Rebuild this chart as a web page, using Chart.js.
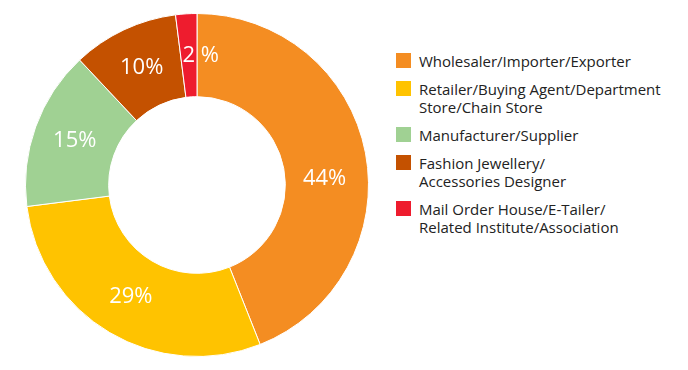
<!DOCTYPE html>
<html>
<head>
<meta charset="utf-8">
<script src="https://cdn.jsdelivr.net/npm/chart.js@4.4.0/dist/chart.umd.min.js"></script>
<style>
  body { margin: 0; background: #fff; width: 688px; height: 370px; overflow: hidden; font-family: "Open Sans", sans-serif; }
  #wrap { position: absolute; left: 0; top: 0; width: 394px; height: 370px; }
  #legend { position: absolute; left: 396px; top: 52px; margin: 0; padding: 0; list-style: none; }
  #legend li { position: relative; padding-left: 23px; margin-bottom: 10px; font-size: 15px; line-height: 18px; color: #222; white-space: nowrap; }
  #legend li span { position: absolute; left: 0; top: 1px; width: 15px; height: 15px; }
</style>
</head>
<body>
<div id="wrap"><canvas id="grafico"></canvas></div>
<ul id="legend"></ul>
<script>
const categories = [
  ['Wholesaler/Importer/Exporter'],
  ['Retailer/Buying Agent/Department', 'Store/Chain Store'],
  ['Manufacturer/Supplier'],
  ['Fashion Jewellery/', 'Accessories Designer'],
  ['Mail Order House/E-Tailer/', 'Related Institute/Association']
];
const shares = [44, 29, 15, 10, 2];
const pctLabels = ['44%', '29%', '15%', '10%', '2 %'];
const colors = ['#F48D22', '#FFC300', '#A0D193', '#C45100', '#EE1C2E'];

// legend
const legend = document.getElementById('legend');
categories.forEach((lines, i) => {
  const li = document.createElement('li');
  const box = document.createElement('span');
  box.style.background = colors[i];
  li.appendChild(box);
  li.appendChild(document.createTextNode(lines[0]));
  for (let k = 1; k < lines.length; k++) {
    li.appendChild(document.createElement('br'));
    li.appendChild(document.createTextNode(lines[k]));
  }
  legend.appendChild(li);
});

// white % labels on the ring
const sliceLabels = {
  id: 'sliceLabels',
  afterDatasetsDraw(chart, args, opts) {
    const ctx = chart.ctx;
    const meta = chart.getDatasetMeta(0);
    ctx.save();
    ctx.fillStyle = '#fff';
    ctx.font = '22px "Open Sans"';
    ctx.textBaseline = 'middle';
    meta.data.forEach((arc, i) => {
      const p = arc.tooltipPosition();
      const dy = (opts.shiftY && opts.shiftY[i]) || 0;
      const txt = pctLabels[i];
      if (txt.indexOf(' ') > 0) {
        // narrow slice: number on the slice, sign spills out to the right
        const num = txt.split(' ')[0];
        ctx.textAlign = 'left';
        ctx.fillText(txt, p.x - ctx.measureText(num).width / 2, p.y + dy);
      } else {
        ctx.textAlign = 'center';
        ctx.fillText(txt, p.x, p.y + dy);
      }
    });
    ctx.restore();
  }
};

new Chart(document.getElementById('grafico'), {
  type: 'doughnut',
  data: {
    labels: categories.map(l => l.join(' ')),
    datasets: [{
      data: shares,
      backgroundColor: colors,
      borderColor: '#fff',
      borderWidth: 1
    }]
  },
  options: {
    responsive: true,
    maintainAspectRatio: false,
    animation: false,
    cutout: '51.5%',
    layout: { padding: 13 },
    plugins: {
      legend: { display: false },
      tooltip: { enabled: false },
      sliceLabels: { shiftY: { 0: 18 } }
    }
  },
  plugins: [sliceLabels]
});
</script>
</body>
</html>
